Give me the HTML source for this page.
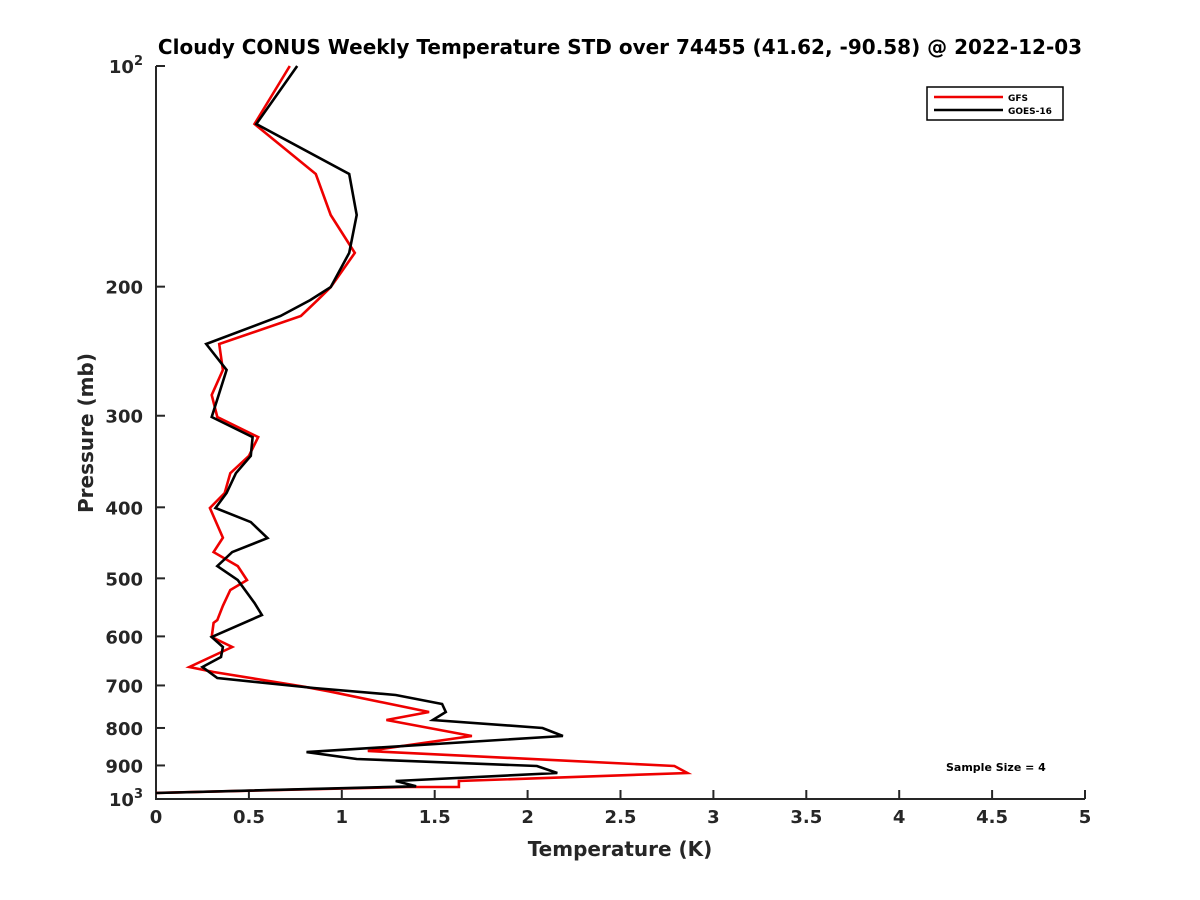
<!DOCTYPE html>
<html><head><meta charset="utf-8"><style>
body{margin:0;background:#fff}
svg{display:block;font-family:"DejaVu Sans","Liberation Sans",sans-serif}
</style></head><body>
<svg id="chart" width="1200" height="900" viewBox="0 0 1200 900">
<rect width="1200" height="900" fill="#fff"/>
<text x="620" y="54" text-anchor="middle" font-size="20" font-weight="bold" fill="#000">Cloudy CONUS Weekly Temperature STD over 74455 (41.62, -90.58) @ 2022-12-03</text>
<g id="axes"></g>
<g id="series"></g>
<g>
<rect x="927" y="87" width="136" height="33" fill="#fff" stroke="#000" stroke-width="1.5"/>
<line x1="934" y1="97" x2="1003" y2="97" stroke="#e00" stroke-width="2.5"/>
<text x="1008" y="101" font-size="9" font-weight="bold">GFS</text>
<line x1="934" y1="110" x2="1003" y2="110" stroke="#000" stroke-width="2.5"/>
<text x="1008" y="114" font-size="9" font-weight="bold">GOES-16</text>
</g>
<text x="946" y="771" font-size="11" font-weight="bold" fill="#000">Sample Size = 4</text>
<text x="620" y="856" text-anchor="middle" font-size="20" font-weight="bold" fill="#262626">Temperature (K)</text>
<text transform="translate(93,433) rotate(-90)" text-anchor="middle" font-size="20" font-weight="bold" fill="#262626">Pressure (mb)</text>
</svg>
<script>
const xTicks=[0,0.5,1,1.5,2,2.5,3,3.5,4,4.5,5];
const xTickLabels=["0","0.5","1","1.5","2","2.5","3","3.5","4","4.5","5"];
const yTicks=[100,200,300,400,500,600,700,800,900,1000];
const gfsP=[100,120,140.4,159.7,179.9,200.3,208.6,219.3,239.5,259.8,281.1,301.2,320.8,340.4,359.3,382.4,400.9,440,460.4,481.1,502.8,518.6,545,570,575,601.2,620.3,660.6,671,703,713,760.9,780.3,820.4,860,901.6,921.6,945,963,963,981];
const gfsT=[0.72,0.53,0.86,0.94,1.07,0.94,0.87,0.78,0.34,0.36,0.30,0.33,0.55,0.50,0.40,0.37,0.29,0.36,0.31,0.44,0.49,0.40,0.36,0.33,0.31,0.30,0.41,0.18,0.31,0.80,0.93,1.47,1.24,1.70,1.14,2.79,2.86,1.63,1.63,1.35,0];
const goesP=[100,120,140.4,159.7,179.9,200.3,208.6,219.3,239.5,259.8,301.2,320.8,340.4,359.3,382.4,400.9,419,440.6,460.4,481.1,502.8,540.2,561,601.2,620.3,640.2,660.6,683.8,705.7,721.3,742,760.9,780.3,800.1,820.4,863,882,901.6,921.6,945,961,981.3];
const goesT=[0.76,0.54,1.04,1.08,1.04,0.94,0.83,0.67,0.27,0.38,0.30,0.52,0.51,0.43,0.38,0.32,0.51,0.60,0.41,0.33,0.44,0.53,0.57,0.30,0.36,0.35,0.25,0.33,0.85,1.29,1.54,1.56,1.49,2.08,2.19,0.81,1.08,2.05,2.16,1.29,1.40,0];
const X0=156,X1=1085,Y0=66,Y1=799;
const sx=t=>X0+(t/5)*(X1-X0);
const sy=p=>Y0+(Math.log10(p)-2)*(Y1-Y0);
const NS="http://www.w3.org/2000/svg";
const axes=document.getElementById('axes'),ser=document.getElementById('series');
function mk(tag,attrs,parent){const e=document.createElementNS(NS,tag);for(const k in attrs)e.setAttribute(k,attrs[k]);parent.appendChild(e);return e;}
let a=mk('path',{d:`M${X0},${Y0}V${Y1}H${X1}`,fill:'none',stroke:'#262626','stroke-width':2},axes);


xTicks.forEach((t,i)=>{
  const l=mk('line',{x1:sx(t),x2:sx(t),y1:Y1,y2:Y1-9,stroke:'#262626','stroke-width':2},axes);
  
  
  const tx=mk('text',{x:sx(t),y:Y1+24,'text-anchor':'middle','font-size':18,'font-weight':'bold',fill:'#262626'},axes);
  tx.textContent=xTickLabels[i];
  
  
});
yTicks.forEach(p=>{
  const y=sy(p);
  const l=mk('line',{x1:X0,x2:X0+9,y1:y,y2:y,stroke:'#262626','stroke-width':2},axes);
  
  
  const tx=mk('text',{x:X0-13,y:y+7,'text-anchor':'end','font-size':18,'font-weight':'bold',fill:'#262626'},axes);
  if(p===100||p===1000){tx.textContent='10';const s=mk('tspan',{dy:-8,'font-size':13},tx);s.textContent=p===100?'2':'3';}
  else tx.textContent=String(p);
  
  
});
function line(P,T,color,name){
  const d=P.map((p,i)=>(i?'L':'M')+sx(T[i]).toFixed(1)+','+sy(p).toFixed(1)).join('');
  const e=mk('path',{d:d,fill:'none',stroke:color,'stroke-width':2.6,'stroke-linejoin':'miter'},ser);
  
  
}
line(gfsP,gfsT,'#e00','gfs-line');
line(goesP,goesT,'#000','goes16-line');
</script>
</body></html>
